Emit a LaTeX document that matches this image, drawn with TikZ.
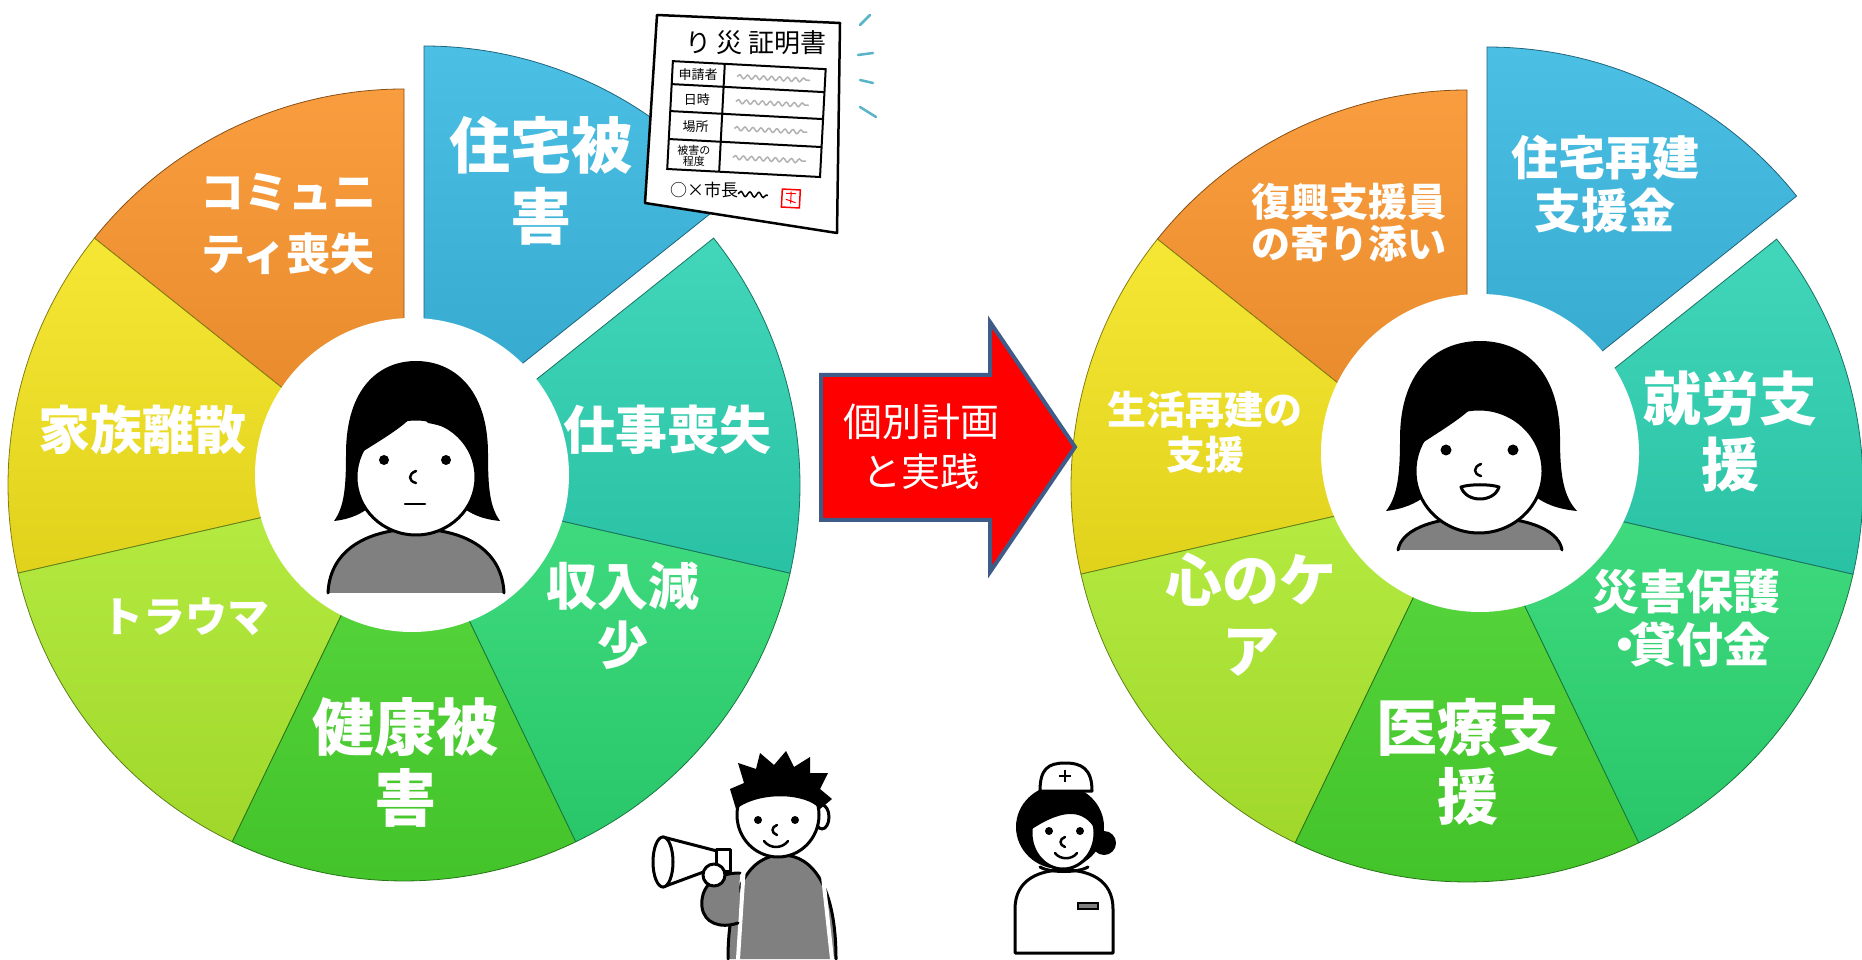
\documentclass[tikz,border=0pt]{standalone}
\usepackage{fontspec}
\newfontfamily\jpfont{Noto Sans CJK JP}
\usetikzlibrary{decorations.pathmorphing}

\definecolor{segblue}{HTML}{38B8E2}
\definecolor{segteal}{HTML}{2DD2B2}
\definecolor{segmint}{HTML}{2CD872}
\definecolor{seggreen}{HTML}{48D42C}
\definecolor{seglime}{HTML}{AEEA2E}
\definecolor{segyellow}{HTML}{F4E41E}
\definecolor{segorange}{HTML}{F8922A}
\definecolor{arrowedge}{HTML}{3E5C87}
\definecolor{shirt}{HTML}{808080}
\definecolor{flash}{HTML}{58B4C6}

\tikzstyle{ink} = [line width=3, line join=round, line cap=round]
\tikzstyle{wave} = [gray!60, line width=1.5, decorate, decoration={snake, amplitude=2, segment length=8}]
\tikzset{seglabel/.style n args={2}{text=white, align=center, inner sep=0pt, font=\jpfont\bfseries\fontsize{#1}{#2}\selectfont}}
\tikzset{memo/.style={inner sep=0pt, align=center, font=\jpfont\fontsize{#1}{#1}\selectfont}}

\begin{document}
\begin{tikzpicture}[x=1pt, y=1pt]
\useasboundingbox (0,0) rectangle (1862,959);

\coordinate (lhub) at (404,474);
\coordinate (rhub) at (1467,473);

%Rings
\foreach \hub in {lhub, rhub} {
  \foreach \a/\c in {90/segorange, 141.43/segyellow, 192.86/seglime, 244.29/seggreen, 295.71/segmint, 347.14/segteal} {
    \shade[top color=\c!90!white, bottom color=\c!92!black, draw=\c!55!black, line width=0.8]
      (\hub) -- ++(\a:396) arc[start angle=\a, end angle=\a+51.43, radius=396] -- cycle;
  }
  \shade[top color=segblue!90!white, bottom color=segblue!90!black, draw=segblue!55!black, line width=0.8]
    ([shift={(20,43)}]\hub) -- ++(38.57:396) arc[start angle=38.57, end angle=90, radius=396] -- cycle;
}
\fill[white] (412,484) circle (157);
\fill[white] (1480,506) circle (159);

%Left ring labels
\node (house_loss) [seglabel={61}{71}] at (541,778) {住宅被\\害};
\node (community_loss) [seglabel={44}{62}] at (288,735) {コミュニ\\ティ喪失};
\node (family_split) [seglabel={52}{60}] at (142,529) {家族離散};
\node (job_loss) [seglabel={52}{60}] at (667,529) {仕事喪失};
\node (income_drop) [seglabel={51}{59}] at (623,343) {収入減\\少};
\node (trauma) [seglabel={42}{50}] at (185,342) {トラウマ};
\node (health_loss) [seglabel={62}{71}] at (405,197) {健康被\\害};

%Right ring labels
\node (rebuild_fund) [seglabel={47}{53}] at (1605,775) {住宅再建\\支援金};
\node (supporter) [seglabel={39}{42}] at (1349,736) {復興支援員\\の寄り添い};
\node (life_support) [seglabel={39}{45}] at (1205,527) {生活再建の\\支援};
\node (work_support) [seglabel={58}{66}] at (1730,528) {就労支\\援};
\node (relief_loan) [seglabel={47}{53}] at (1686,341) {災害保護\\・\kern-0.4em 貸付金};
\node (mind_care) [seglabel={57}{71}] at (1251,344) {心のケ\\ア};
\node (medical) [seglabel={61}{69}] at (1468,197) {医療支\\援};

%Arrow
\filldraw[fill=red, draw=arrowedge, line width=4, line join=miter]
  (821,584) -- (990,584) -- (990,637) -- (1075,512) -- (990,387) -- (990,439) -- (821,439) -- cycle;
\node (plan) [text=white, align=center, inner sep=0pt, font=\jpfont\fontsize{39}{50}\selectfont] at (921,512) {個別計画\\と実践};

%Sad woman
\fill[black] (334,438) .. controls (344,452) and (346,470) .. (346,505) .. controls (346,572) and (380,598) .. (416,598)
  .. controls (452,598) and (488,572) .. (488,505) .. controls (488,470) and (490,452) .. (500,438)
  .. controls (480,440) and (470,446) .. (462,452) -- (370,452) .. controls (362,446) and (352,440) .. (334,438) -- cycle;
\fill[shirt] (328,366) .. controls (330,412) and (372,430) .. (416,430) .. controls (460,430) and (502,412) .. (504,366) -- cycle;
\draw[ink] (328,366) .. controls (330,412) and (372,430) .. (416,430) .. controls (460,430) and (502,412) .. (504,366);
\filldraw[fill=white, ink] (416,482) ellipse (60 and 58);
\fill[black] (354,502) .. controls (354,562) and (385,588) .. (416,588) .. controls (450,588) and (480,562) .. (480,502)
  .. controls (472,520) and (452,532) .. (428,536) .. controls (424,540) and (420,546) .. (418,552)
  .. controls (412,538) and (396,528) .. (354,502) -- cycle;
\fill (384,499) circle (5);
\fill (446,499) circle (5);
\draw[ink, line width=2.5] (416,488) .. controls (408,485) and (408,478) .. (416,476);
\draw[ink, line width=2.5] (405,455) -- (425,455);

%Smiling woman
\fill[black] (1386,448) .. controls (1397,462) and (1400,482) .. (1400,520) .. controls (1400,592) and (1440,618) .. (1480,618)
  .. controls (1520,618) and (1560,592) .. (1560,520) .. controls (1560,482) and (1564,462) .. (1577,448)
  .. controls (1556,450) and (1544,456) .. (1536,462) -- (1424,462) .. controls (1416,456) and (1404,450) .. (1386,448) -- cycle;
\fill[shirt] (1398,409) .. controls (1402,432) and (1440,442) .. (1480,442) .. controls (1520,442) and (1558,432) .. (1562,409) -- cycle;
\draw[ink] (1398,409) .. controls (1402,432) and (1440,442) .. (1480,442) .. controls (1520,442) and (1558,432) .. (1562,409);
\filldraw[fill=white, ink] (1479,488) ellipse (64 and 62);
\fill[black] (1413,510) .. controls (1413,574) and (1446,604) .. (1480,604) .. controls (1516,604) and (1548,574) .. (1548,510)
  .. controls (1538,530) and (1516,544) .. (1492,548) .. controls (1488,552) and (1484,558) .. (1482,566)
  .. controls (1474,548) and (1456,538) .. (1413,510) -- cycle;
\fill (1446,509) circle (5.5);
\fill (1513,509) circle (5.5);
\draw[ink, line width=2.5] (1481,495) .. controls (1473,492) and (1473,485) .. (1481,483);
\filldraw[fill=white, ink] (1461,472) .. controls (1470,475) and (1490,475) .. (1499,472) .. controls (1494,456) and (1466,456) .. (1461,472) -- cycle;

%Certificate
\filldraw[fill=white, line width=2.5, line join=round] (657,944) -- (840,936) -- (837,726) -- (645,756) -- cycle;
\begin{scope}[rotate around={-3:(745,841)}]
  \node (cert_title) [memo=26] at (752,917) {り\,災\hspace{6pt}証明書};
  \draw[line width=2] (670,894) rectangle (823,786);
  \foreach \y in {871,844,816} \draw[line width=2] (670,\y) -- (823,\y);
  \draw[line width=2] (722,894) -- (722,786);
  \node (applicant) [memo=13] at (696,882) {申請者};
  \node (datetime) [memo=13] at (696,857) {日時};
  \node (place) [memo=13] at (696,830) {場所};
  \node (degree) [memo=11] at (696,801) {被害の\\程度};
  \foreach \y in {882,857,830,801} \draw[wave] (735,\y) -- (808,\y);
  \node (mayor) [memo=17] at (708,767) {○×市長};
  \draw[line width=1.5, decorate, decoration={snake, amplitude=2.5, segment length=9}] (742,765) -- (772,765);
  \draw[red, line width=1.5] (786,754) rectangle (804,772);
  \draw[red, line width=1] (790,768) -- (800,768) (795,770) -- (795,758) (790,762) -- (800,759);
\end{scope}
\draw[flash, line width=2.5, line cap=round] (860,934) -- (870,944) (858,904) -- (873,906) (860,879) -- (873,876) (860,852) -- (876,842);

%Boy with megaphone
\fill[shirt] (728,0) .. controls (728,70) and (750,104) .. (782,104) .. controls (814,104) and (836,70) .. (836,0) -- cycle;
\draw[ink] (728,0) .. controls (728,70) and (750,104) .. (782,104) .. controls (814,104) and (836,70) .. (836,0);
\draw[ink, white, line width=4] (744,94) -- (738,0) (822,92) -- (832,0);
\filldraw[fill=shirt, ink] (740,86) .. controls (714,86) and (700,72) .. (702,52) .. controls (704,36) and (720,30) .. (738,36);
\filldraw[fill=white, ink] (717,108) -- (663,122) -- (663,72) -- (717,92) -- cycle;
\filldraw[fill=white, ink] (663,97) ellipse (10 and 25);
\filldraw[fill=white, ink] (716,88) rectangle (730,110);
\filldraw[fill=white, ink] (714,84) circle (11);
\filldraw[fill=white, ink] (822,142) ellipse (7 and 12);
\filldraw[fill=white, ink] (778,144) ellipse (41 and 42);
\fill[black] (736,150) -- (730,170) -- (744,176) -- (738,196) -- (756,190) -- (760,206) -- (774,194) -- (786,208) -- (794,192)
  -- (810,202) -- (810,186) -- (828,186) -- (820,170) -- (832,160) -- (820,150)
  .. controls (806,166) and (760,168) .. (736,150) -- cycle;
\fill (758,139) circle (4);
\fill (795,139) circle (4);
\draw[ink, line width=2.5] (777,134) .. controls (771,132) and (771,126) .. (777,124);
\draw[ink, line width=2.5] (764,118) .. controls (770,110) and (782,110) .. (788,118);

%Nurse
\fill[black] (1060,132) ellipse (44 and 42);
\fill[black] (1104,116) circle (12);
\filldraw[fill=white, ink] (1015,6) -- (1015,50) .. controls (1015,80) and (1040,89) .. (1064,89)
  .. controls (1088,89) and (1113,80) .. (1113,50) -- (1113,6) -- cycle;
\filldraw[fill=shirt, line width=1.5] (1078,50) rectangle (1098,56);
\draw[ink] (1040,92) .. controls (1050,86) and (1078,86) .. (1088,92);
\filldraw[fill=white, ink] (1063,126) ellipse (32 and 36);
\fill[black] (1032,130) .. controls (1034,160) and (1050,168) .. (1066,168) .. controls (1084,168) and (1096,152) .. (1095,130)
  .. controls (1084,148) and (1066,152) .. (1032,130) -- cycle;
\filldraw[fill=white, ink] (1040,168) .. controls (1040,190) and (1048,196) .. (1065,196) .. controls (1082,196) and (1092,190) .. (1092,168) -- cycle;
\draw[line width=2] (1065,177) -- (1065,189) (1059,183) -- (1071,183);
\fill (1049,128) circle (4);
\fill (1080,128) circle (4);
\draw[ink, line width=2.5] (1065,122) .. controls (1059,120) and (1059,114) .. (1065,112);
\draw[ink, line width=2.5] (1055,106) .. controls (1060,99) and (1072,99) .. (1077,106);

\end{tikzpicture}
\end{document}
